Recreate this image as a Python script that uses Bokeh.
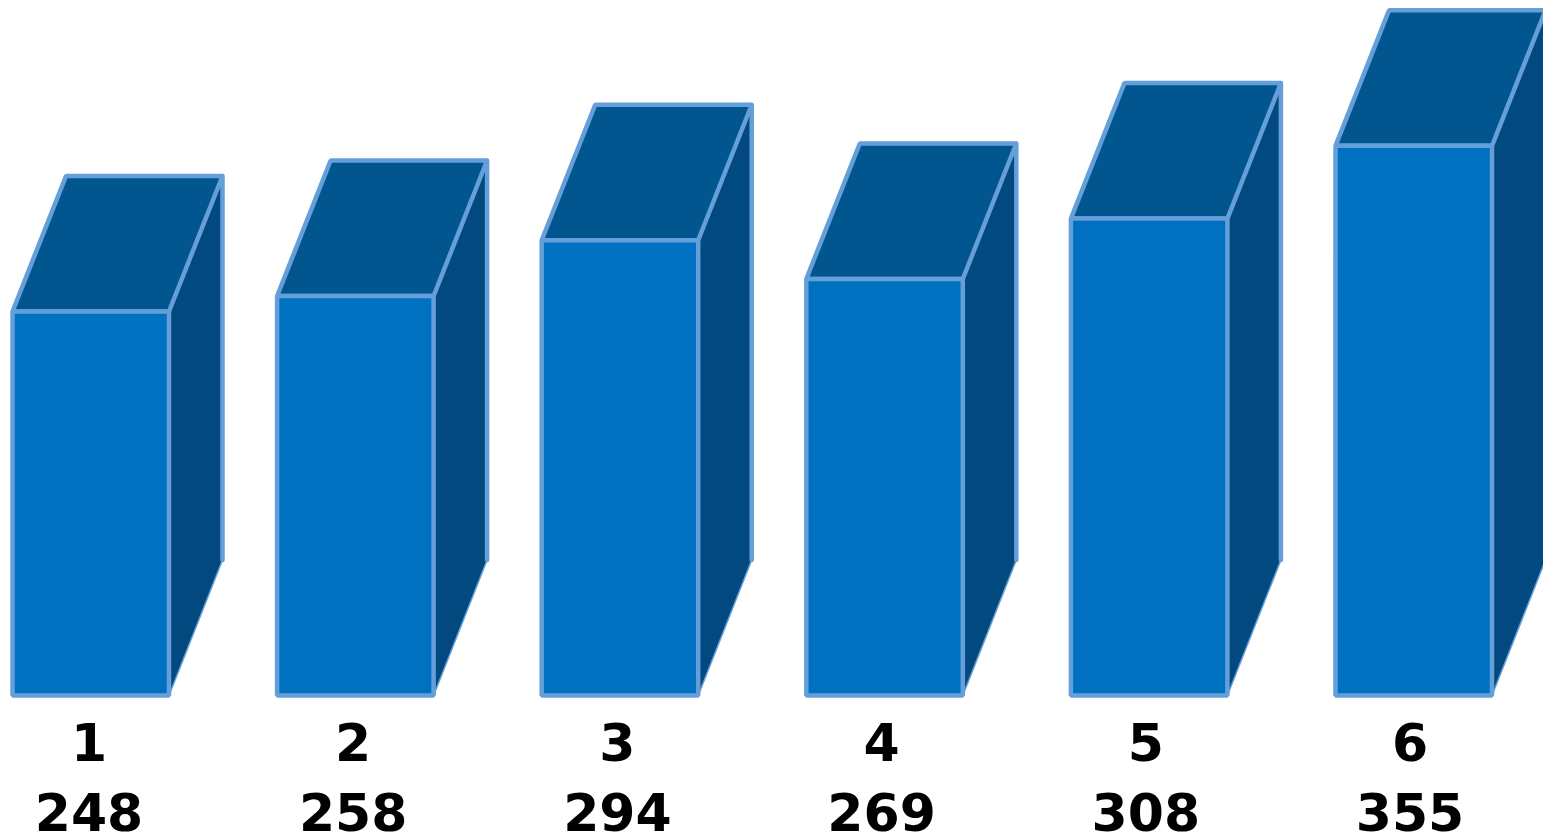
from bokeh.plotting import figure
from bokeh.embed import file_html
from bokeh.resources import INLINE
from bokeh.models import Range1d, ColumnDataSource
from bokeh.core.properties import value

categories = ["1", "2", "3", "4", "5", "6"]
totals = [248, 258, 294, 269, 308, 355]

W, H = 1543, 836
FRONT = "#0070c0"
TOP = "#02568f"
SIDE = "#02497f"
EDGE = "#659fd9"

# pixel-scaled data axis: one unit of value is this many pixels tall
UNIT = 384 / 248
BASE_Y = 695
BAR_W = 156.5
STEP = 264.6
X0 = 12
DX, DY = 53.5, 135.5
LABEL_X0 = 88.5
LABEL_STEP = 264.2

p = figure(width=W, height=H, output_backend="svg", toolbar_location=None,
           x_range=Range1d(0, W), y_range=Range1d(H, 0),
           min_border=0, outline_line_color=None, background_fill_color="white")
p.axis.visible = False
p.grid.visible = False

fx, fy, tx, ty, sx, sy = [], [], [], [], [], []
ex, ey, dx, dy, lx = [], [], [], [], []
for i, v in enumerate(totals):
    l = X0 + i * STEP
    r = l + BAR_W
    t = BASE_Y - v * UNIT
    fx.append([l, r, r, l]); fy.append([BASE_Y, BASE_Y, t, t])
    tx.append([l, r, r + DX, l + DX]); ty.append([t, t, t - DY, t - DY])
    sx.append([r, r + DX, r + DX, r]); sy.append([BASE_Y, BASE_Y - DY, t - DY, t])
    # back vertical edge of the side face, and its thinner lower diagonal
    ex.append([r + DX, r + DX]); ey.append([t - DY, BASE_Y - DY])
    dx.append([r + DX, r]); dy.append([BASE_Y - DY, BASE_Y])
    lx.append(LABEL_X0 + i * LABEL_STEP)

p.patches(sx, sy, fill_color=SIDE, line_color=None)
p.multi_line(ex, ey, line_color=EDGE, line_width=4.5, line_cap="round")
p.multi_line(dx, dy, line_color=EDGE, line_width=1.5)
for xs, ys, col in [(tx, ty, TOP), (fx, fy, FRONT)]:
    p.patches(xs, ys, fill_color=col, line_color=EDGE, line_width=4.5, line_join="bevel")

src = ColumnDataSource(dict(x=lx, cat=categories, tot=[str(v) for v in totals]))
p.text("x", 741, text="cat", source=src, text_align="center", text_baseline="middle",
       text_font=value("DejaVu Sans"), text_font_style="bold", text_font_size="52px", text_color="#000000")
p.text("x", 811, text="tot", source=src, text_align="center", text_baseline="middle",
       text_font=value("DejaVu Sans"), text_font_style="bold", text_font_size="52px", text_color="#000000")

open("out.html", "w").write(file_html(p, INLINE))
